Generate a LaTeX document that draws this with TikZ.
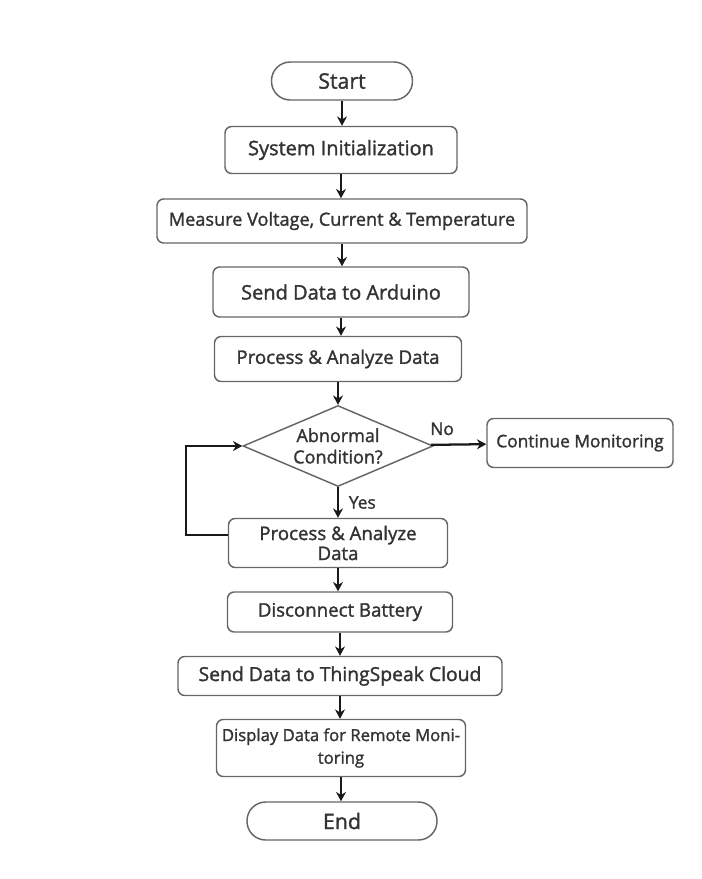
\documentclass[tikz,border=0pt]{standalone}
\usepackage{fontspec}
\setmainfont{Open Sans}[UprightFeatures={FakeBold=1.5}]
\usetikzlibrary{arrows.meta}
\usetikzlibrary{shapes.geometric}
\tikzset{
 stepbox/.style={draw=black!60, line width=1.1pt, rounded corners=5pt, align=center, inner sep=1pt, text=black!80, font=\fontsize{14}{17}\selectfont},
 termbox/.style={stepbox, rounded corners=14pt, font=\fontsize{16}{18}\selectfont},
 decision/.style={diamond, draw=black!60, line width=1.1pt, aspect=2.35, inner sep=0pt, align=center, text=black!80, font=\fontsize{13.5}{16}\selectfont, minimum width=142.5pt, minimum height=60.75pt},
 flow/.style={black!90, line width=1.7pt, ->, >={Stealth[length=7pt, width=7.5pt]}}
}

\begin{document}
\begin{tikzpicture} [x=0.75pt, y=-0.75pt]
\useasboundingbox (0,0) rectangle (702,879);
\node[termbox, minimum width=105.75pt, minimum height=28.5pt] (start) at (342,81) {Start};
\node[stepbox, minimum width=174pt, minimum height=35.25pt, font=\fontsize{15}{17}\selectfont] (init) at (341,150) {System Initialization};
\node[stepbox, minimum width=277.5pt, minimum height=33pt, font=\fontsize{13.6}{16}\selectfont] (measure) at (342,221) {Measure Voltage, Current \& Temperature};
\node[stepbox, minimum width=192pt, minimum height=37.5pt, font=\fontsize{15}{17}\selectfont] (send) at (341,292) {Send Data to Arduino};
\node[stepbox, minimum width=185.25pt, minimum height=33.75pt] (process) at (338,359) {Process \& Analyze Data};
\node[decision] (check) at (338,446) {Abnormal\\Condition?};
\node[stepbox, minimum width=139.5pt, minimum height=36.75pt, font=\fontsize{13}{16}\selectfont] (monitor) at (580,443) {Continue Monitoring};
\node[stepbox, minimum width=164.25pt, minimum height=36.75pt, font=\fontsize{14}{15}\selectfont] (analyze) at (338,543) {Process \& Analyze\\Data};
\node[stepbox, minimum width=168.75pt, minimum height=30pt] (disconnect) at (340,612) {Disconnect Battery};
\node[stepbox, minimum width=243pt, minimum height=29.25pt, font=\fontsize{14.5}{17}\selectfont] (cloud) at (340,676) {Send Data to ThingSpeak Cloud};
\node[stepbox, minimum width=186.75pt, minimum height=42.75pt, font=\fontsize{12.5}{17}\selectfont] (display) at (341,748) {Display Data for Remote Moni-\\toring};
\node[termbox, minimum width=142.5pt, minimum height=28.5pt] (finish) at (342,821) {End};

\draw[flow] (start.south) -- (start.south |- init.north);
\draw[flow] (init.south) -- (init.south |- measure.north);
\draw[flow] (measure.south) -- (measure.south |- send.north);
\draw[flow] (send.south) -- (send.south |- process.north);
\draw[flow] (process) -- (check);
\draw[flow] (check) -- node[pos=0.2, above, yshift=3pt, text=black!80, font=\fontsize{13}{15}\selectfont] {No} (monitor);
\draw[flow] (check) -- node[right, xshift=4pt, text=black!80, font=\fontsize{13}{15}\selectfont] {Yes} (analyze);
\draw[flow] ([yshift=6pt]analyze.west) -- ++(-42,0) |- (check.west);
\draw[flow] (analyze.south) -- (analyze.south |- disconnect.north);
\draw[flow] (disconnect.south) -- (disconnect.south |- cloud.north);
\draw[flow] (cloud.south) -- (cloud.south |- display.north);
\draw[flow] (display.south) -- (display.south |- finish.north);
\end{tikzpicture}
\end{document}
